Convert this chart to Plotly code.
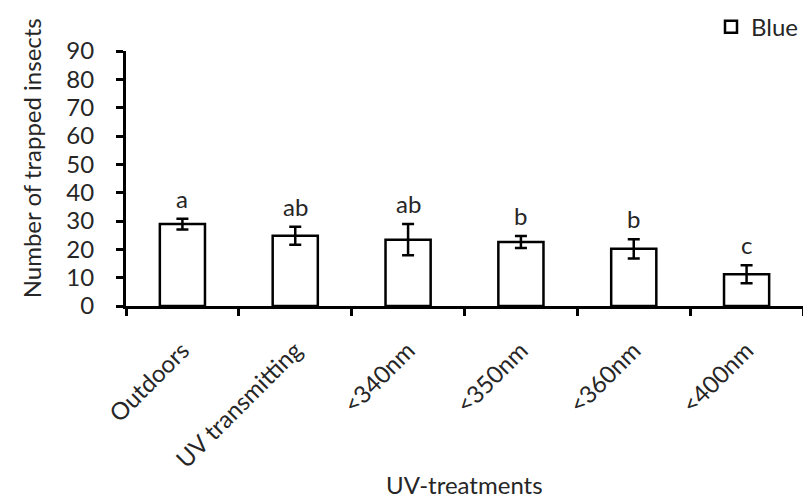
import plotly.graph_objects as go

# Trap counts per UV treatment (mean ± error) and significance letters
treatments = ["Outdoors", "UV transmitting", "<340nm", "<350nm", "<360nm", "<400nm"]
trapped_mean = [28.9, 24.8, 23.4, 22.6, 20.2, 11.2]
trapped_err = [1.9, 3.2, 5.5, 2.1, 3.4, 3.2]
sig_letters = ["a", "ab", "ab", "b", "b", "c"]
y_ticks = [0, 10, 20, 30, 40, 50, 60, 70, 80, 90]

FONT = "Lato"
FS = 24
TXT = "#262626"

fig = go.Figure()
fig.add_trace(go.Bar(
    x=treatments,
    y=trapped_mean,
    name="Blue",
    marker=dict(color="white", line=dict(color="black", width=2.5)),
    error_y=dict(type="data", array=trapped_err, visible=True,
                 color="black", thickness=2.5, width=6),
))

# significance letters above the error bars
for t, m, e, s in zip(treatments, trapped_mean, trapped_err, sig_letters):
    fig.add_annotation(x=t, y=m + e, text=s, showarrow=False,
                       yanchor="bottom", yshift=4,
                       font=dict(family=FONT, size=FS, color=TXT))

# axis titles
fig.add_annotation(xref="paper", yref="paper", x=-0.14, y=0.58,
                   xanchor="center", yanchor="middle",
                   text="Number of trapped insects", textangle=-90,
                   showarrow=False, font=dict(family=FONT, size=FS, color=TXT))
fig.add_annotation(xref="paper", yref="paper", x=0.5, y=-0.70,
                   xanchor="center", yanchor="middle",
                   text="UV-treatments", showarrow=False,
                   font=dict(family=FONT, size=FS, color=TXT))

fig.update_layout(
    width=803, height=500,
    margin=dict(l=126, r=0, t=51, b=194),
    plot_bgcolor="white", paper_bgcolor="white",
    bargap=0.6,
    font=dict(family=FONT, size=FS, color=TXT),
    showlegend=True,
    legend=dict(x=1, xanchor="right", y=1.094, yanchor="middle",
                font=dict(family=FONT, size=FS, color=TXT),
                bgcolor="rgba(0,0,0,0)", itemwidth=30),
)
fig.update_xaxes(
    type="category", tickson="boundaries", tickangle=-45,
    showline=True, linecolor="black", linewidth=3,
    ticks="outside", ticklen=7, tickwidth=3, tickcolor="black",
    showgrid=False, zeroline=False, ticklabelstandoff=18,
    tickfont=dict(family=FONT, size=FS, color=TXT),
)
fig.update_yaxes(
    range=[0, 90], tickvals=y_ticks,
    showline=True, linecolor="black", linewidth=3,
    ticks="outside", ticklen=7, tickwidth=3, tickcolor="black",
    showgrid=False, zeroline=False, ticklabelstandoff=17,
    tickfont=dict(family=FONT, size=FS, color=TXT),
)

fig.write_html("out.html")
